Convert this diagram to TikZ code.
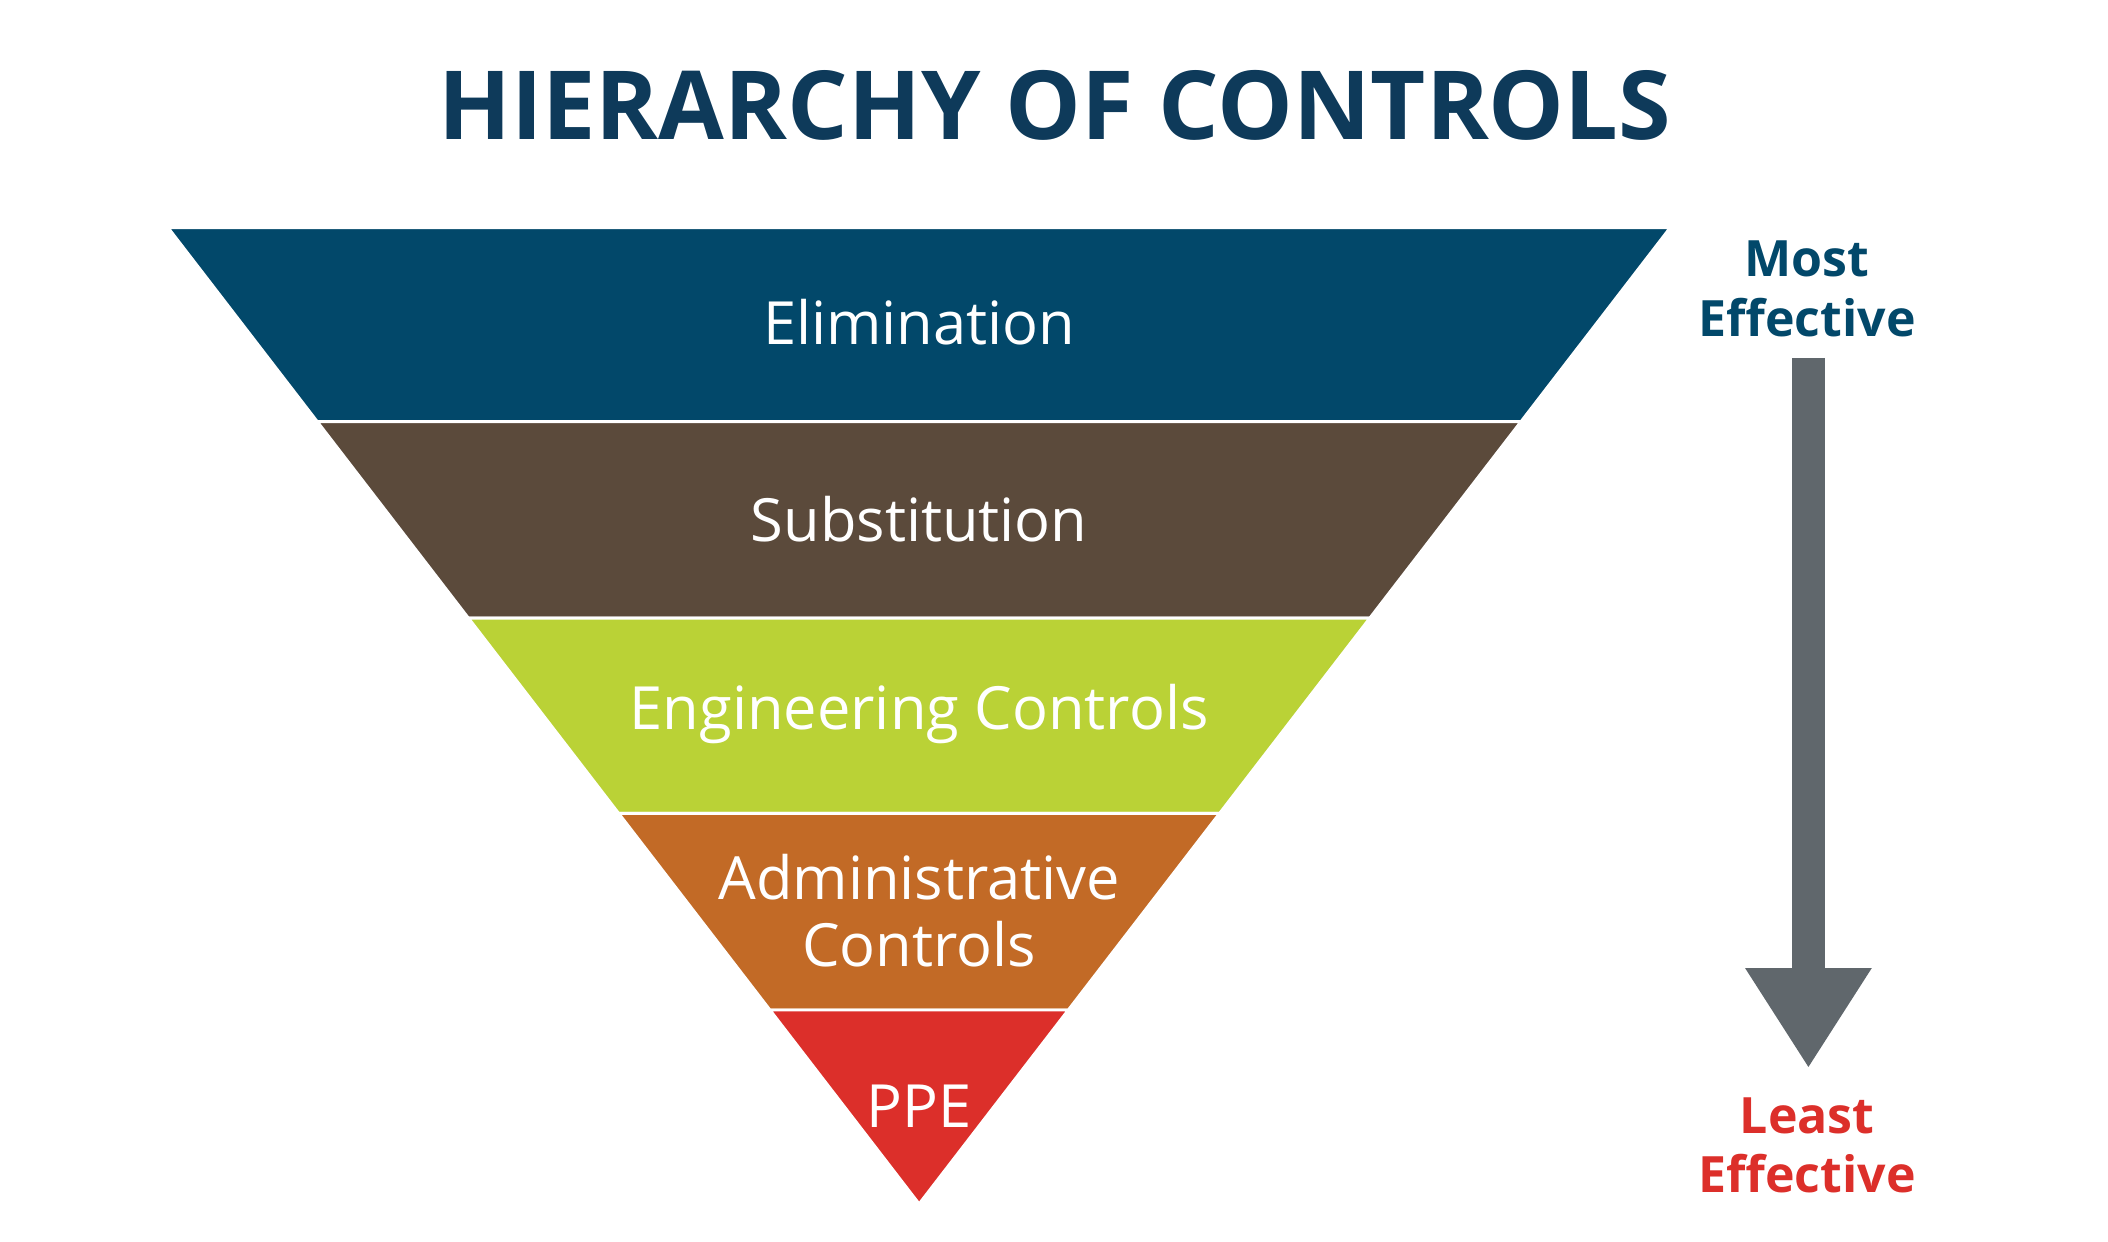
\documentclass[tikz,border=0pt]{standalone}
\usepackage{fontspec}
\setmainfont{Open Sans}
\usetikzlibrary{arrows.meta}
\definecolor{titleblue}{HTML}{0E3A5A}
\definecolor{elimblue}{HTML}{02486A}
\definecolor{substbrown}{HTML}{5B4A3B}
\definecolor{englime}{HTML}{BAD236}
\definecolor{adminorange}{HTML}{C26A26}
\definecolor{ppered}{HTML}{DC2F2A}
\definecolor{arrowgray}{HTML}{60676C}
\tikzset{
  band/.style={fill=#1, draw=white, line width=0.6pt},
  bandtext/.style={text=white, font=\fontsize{12.5}{15}\selectfont, align=center},
  sidetext/.style={font=\bfseries\fontsize{10.5}{12.5}\selectfont, align=center, text=#1}
}
\begin{document}
\begin{tikzpicture}[x=0.01cm, y=-0.01cm]
    \useasboundingbox (0,0) rectangle (1555,916);
    \node[font=\bfseries\fontsize{20}{24}\selectfont, text=titleblue] (title) at (778,78) {HIERARCHY OF CONTROLS};
    % bands of the inverted triangle
    \foreach \ytop/\ybot/\col/\name in {168/311/elimblue/elim, 311/456/substbrown/subst, 456/600/englime/eng, 600/745/adminorange/admin, 745/888/ppered/ppe}{
        \pgfmathsetmacro{\lt}{124+(\ytop-168)*0.7694}
        \pgfmathsetmacro{\rt}{1232-(\ytop-168)*0.7694}
        \pgfmathsetmacro{\lb}{124+(\ybot-168)*0.7694}
        \pgfmathsetmacro{\rb}{1232-(\ybot-168)*0.7694}
        \filldraw[band=\col] (\lt,\ytop) -- (\rt,\ytop) -- (\rb,\ybot) -- (\lb,\ybot) -- cycle;
    }
    \node[bandtext] (elim) at (678,238) {Elimination};
    \node[bandtext] (subst) at (678,383) {Substitution};
    \node[bandtext] (eng) at (678,527) {Engineering Controls};
    \node[bandtext] (admin) at (678,672) {Administrative\\[-1pt]Controls};
    \node[bandtext] (ppe) at (678,816) {PPE};
    % effectiveness arrow
    \node[sidetext=elimblue] (most) at (1333,213) {Most\\Effective};
    \node[sidetext=ppered] (least) at (1333,845) {Least\\Effective};
    \coordinate (arrtop) at (1334,264);
    \coordinate (arrtip) at (1334,788);
    \draw[arrowgray, line width=7.1pt, -{Triangle[width=25pt,length=21pt]}] (arrtop) -- (arrtip);
\end{tikzpicture}
\end{document}
